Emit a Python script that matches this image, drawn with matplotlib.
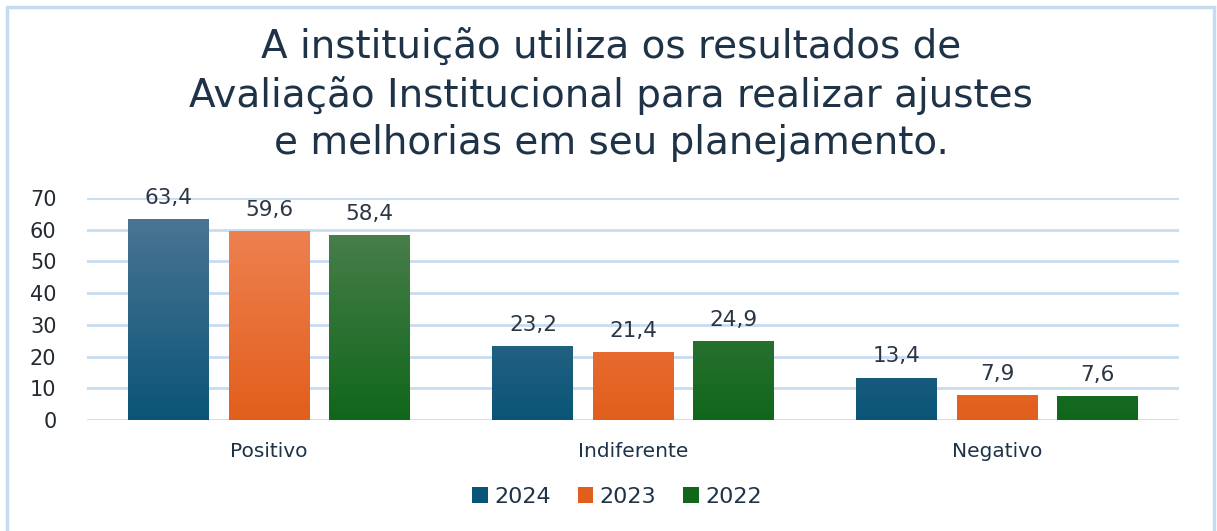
import numpy as np
import matplotlib
matplotlib.use('Agg')
import matplotlib.pyplot as plt
from matplotlib.colors import LinearSegmentedColormap
from matplotlib.patches import Rectangle

# data
categories = ['Positivo', 'Indiferente', 'Negativo']
years = ['2024', '2023', '2022']
values_2024 = [63.4, 23.2, 13.4]
values_2023 = [59.6, 21.4, 7.9]
values_2022 = [58.4, 24.9, 7.6]
series = [values_2024, values_2023, values_2022]
title_lines = ['A instituição utiliza os resultados de',
               'Avaliação Institucional para realizar ajustes',
               'e melhorias em seu planejamento.']

# (top colour, bottom colour) per year
grad_colors = [('#4b7493', '#0a5577'),
               ('#ee8353', '#e25e1c'),
               ('#4d7f4d', '#0f671b')]
text_color = '#1e3248'
grid_color = '#c8dcf0'

plt.rcParams['font.family'] = ['DejaVu Sans']

W, H = 1217, 531
fig = plt.figure(figsize=(W / 100, H / 100), dpi=100)

# outer border of the chart area
fig.patches.append(Rectangle((7 / W, -0.05), (1214 - 7) / W, (H - 7) / H + 0.05,
                             transform=fig.transFigure, fill=False,
                             edgecolor='#c5dbef', linewidth=2.5))

# title, one line at a time
for i, line in enumerate(title_lines):
    fig.text(611 / W, 1 - (48 + 47.5 * i) / H, line, ha='center', va='center',
             fontsize=28, color=text_color)

ax = fig.add_axes([87 / W, 1 - 420 / H, 1092 / W, 222 / H])

x = np.arange(len(categories))
width = 0.222
step = 0.275

for k, (vals, (ctop, cbot)) in enumerate(zip(series, grad_colors)):
    pos = x + (k - 1) * step
    bars = ax.bar(pos, vals, width, color=cbot, label=years[k], zorder=3)
    cmap = LinearSegmentedColormap.from_list('g%d' % k, [cbot, ctop])
    grad = np.linspace(0, 1, 256).reshape(-1, 1)
    for b in bars:
        bx, bw, bh = b.get_x(), b.get_width(), b.get_height()
        im = ax.imshow(grad, extent=[bx, bx + bw, 0, 63.4], origin='lower',
                       cmap=cmap, aspect='auto', zorder=3.5)
        im.set_clip_path(b)
        ax.annotate(('%.1f' % bh).replace('.', ','),
                    (bx + bw / 2, bh), xytext=(0, 8), textcoords='offset points',
                    ha='center', va='bottom', fontsize=15.5, color='#2a3644',
                    annotation_clip=False)
ax.set_xlim(-0.5, 2.5)
ax.set_ylim(0, 70)

ax.set_yticks(range(0, 71, 10))
ax.yaxis.grid(True, color=grid_color, linewidth=2, zorder=0)
ax.set_axisbelow(True)
ax.tick_params(axis='y', length=0, pad=22, labelsize=15, labelcolor='#222a33')
ax.set_xticks(x)
ax.set_xticklabels(categories)
ax.tick_params(axis='x', length=0, pad=16, labelsize=14.5, labelcolor=text_color)
for s in ax.spines.values():
    s.set_visible(False)

leg = fig.legend(loc='center', bbox_to_anchor=(617 / W, 1 - 497 / H), ncol=3,
                 frameon=False, fontsize=16, handlelength=0.7, handleheight=0.7,
                 handletextpad=0.3, columnspacing=1.2, labelcolor=text_color)

fig.savefig('out.png', dpi=100, facecolor='white')
